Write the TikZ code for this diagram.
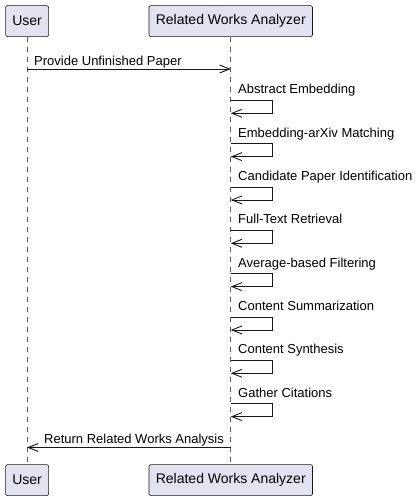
\documentclass[tikz,border=0pt]{standalone}
\usepackage{fontspec}
\setmainfont{Liberation Sans}
\usetikzlibrary{arrows.meta}
\definecolor{pfill}{HTML}{E2E2F0}
\definecolor{pline}{HTML}{181818}
\tikzset{
  part/.style={draw=pline, fill=pfill, line width=0.6pt, rounded corners=2pt,
    minimum height=31pt, inner xsep=0pt, font=\fontsize{14pt}{16pt}\selectfont, anchor=north west},
  life/.style={draw=pline!70, line width=0.7pt, dash pattern=on 5pt off 5pt},
  msg/.style={draw=pline, line width=0.9pt, -{Straight Barb[length=10pt,width=8pt,line width=0.9pt]}},
  lbl/.style={font=\fontsize{13pt}{15pt}\selectfont, anchor=base west, inner sep=0pt}
}
\begin{document}
\begin{tikzpicture}[x=1pt,y=-1pt]
\useasboundingbox (0,0) rectangle (417,500);
% participants
\node[part, minimum width=43pt] (u) at (5.3,5.3) {User};
\node[part, minimum width=163.5pt] (r) at (148.7,5.3) {Related Works Analyzer};
\node[part, minimum width=43pt] (u2) at (5.3,464.3) {User};
\node[part, minimum width=163.5pt] (r2) at (148.7,464.3) {Related Works Analyzer};
% lifelines
\draw[life] (u.south) -- (u2.north);
\draw[life] (r.south) -- (r2.north);
% first message
\coordinate (m1a) at (u.south |- 0,69);
\coordinate (m1b) at (r.south |- 0,69);
\draw[msg] (m1a) -- (m1b);
\node[lbl] (l1) at (34,65.5) {Provide Unfinished Paper};
% self messages
\foreach \t [count=\i] in {Abstract Embedding, Embedding-arXiv Matching, Candidate Paper Identification, Full-Text Retrieval, Average-based Filtering, Content Summarization, Content Synthesis, Gather Citations}{
  \pgfmathsetmacro{\yy}{100.3+(\i-1)*43.33}
  \coordinate (s\i a) at (r.south |- 0,\yy);
  \coordinate (s\i b) at (272,\yy);
  \coordinate (s\i c) at (272,\yy+13);
  \coordinate (s\i d) at (r.south |- 0,\yy+13);
  \draw[msg] (s\i a) -- (s\i b) -- (s\i c) -- (s\i d);
  \node[lbl] (sl\i) at (238,\yy-6.5) {\t};
}
% return message
\coordinate (m2a) at (r.south |- 0,447.5);
\coordinate (m2b) at (u.south |- 0,447.5);
\draw[msg] (m2a) -- (m2b);
\node[lbl] (l2) at (44,443) {Return Related Works Analysis};
\end{tikzpicture}
\end{document}
